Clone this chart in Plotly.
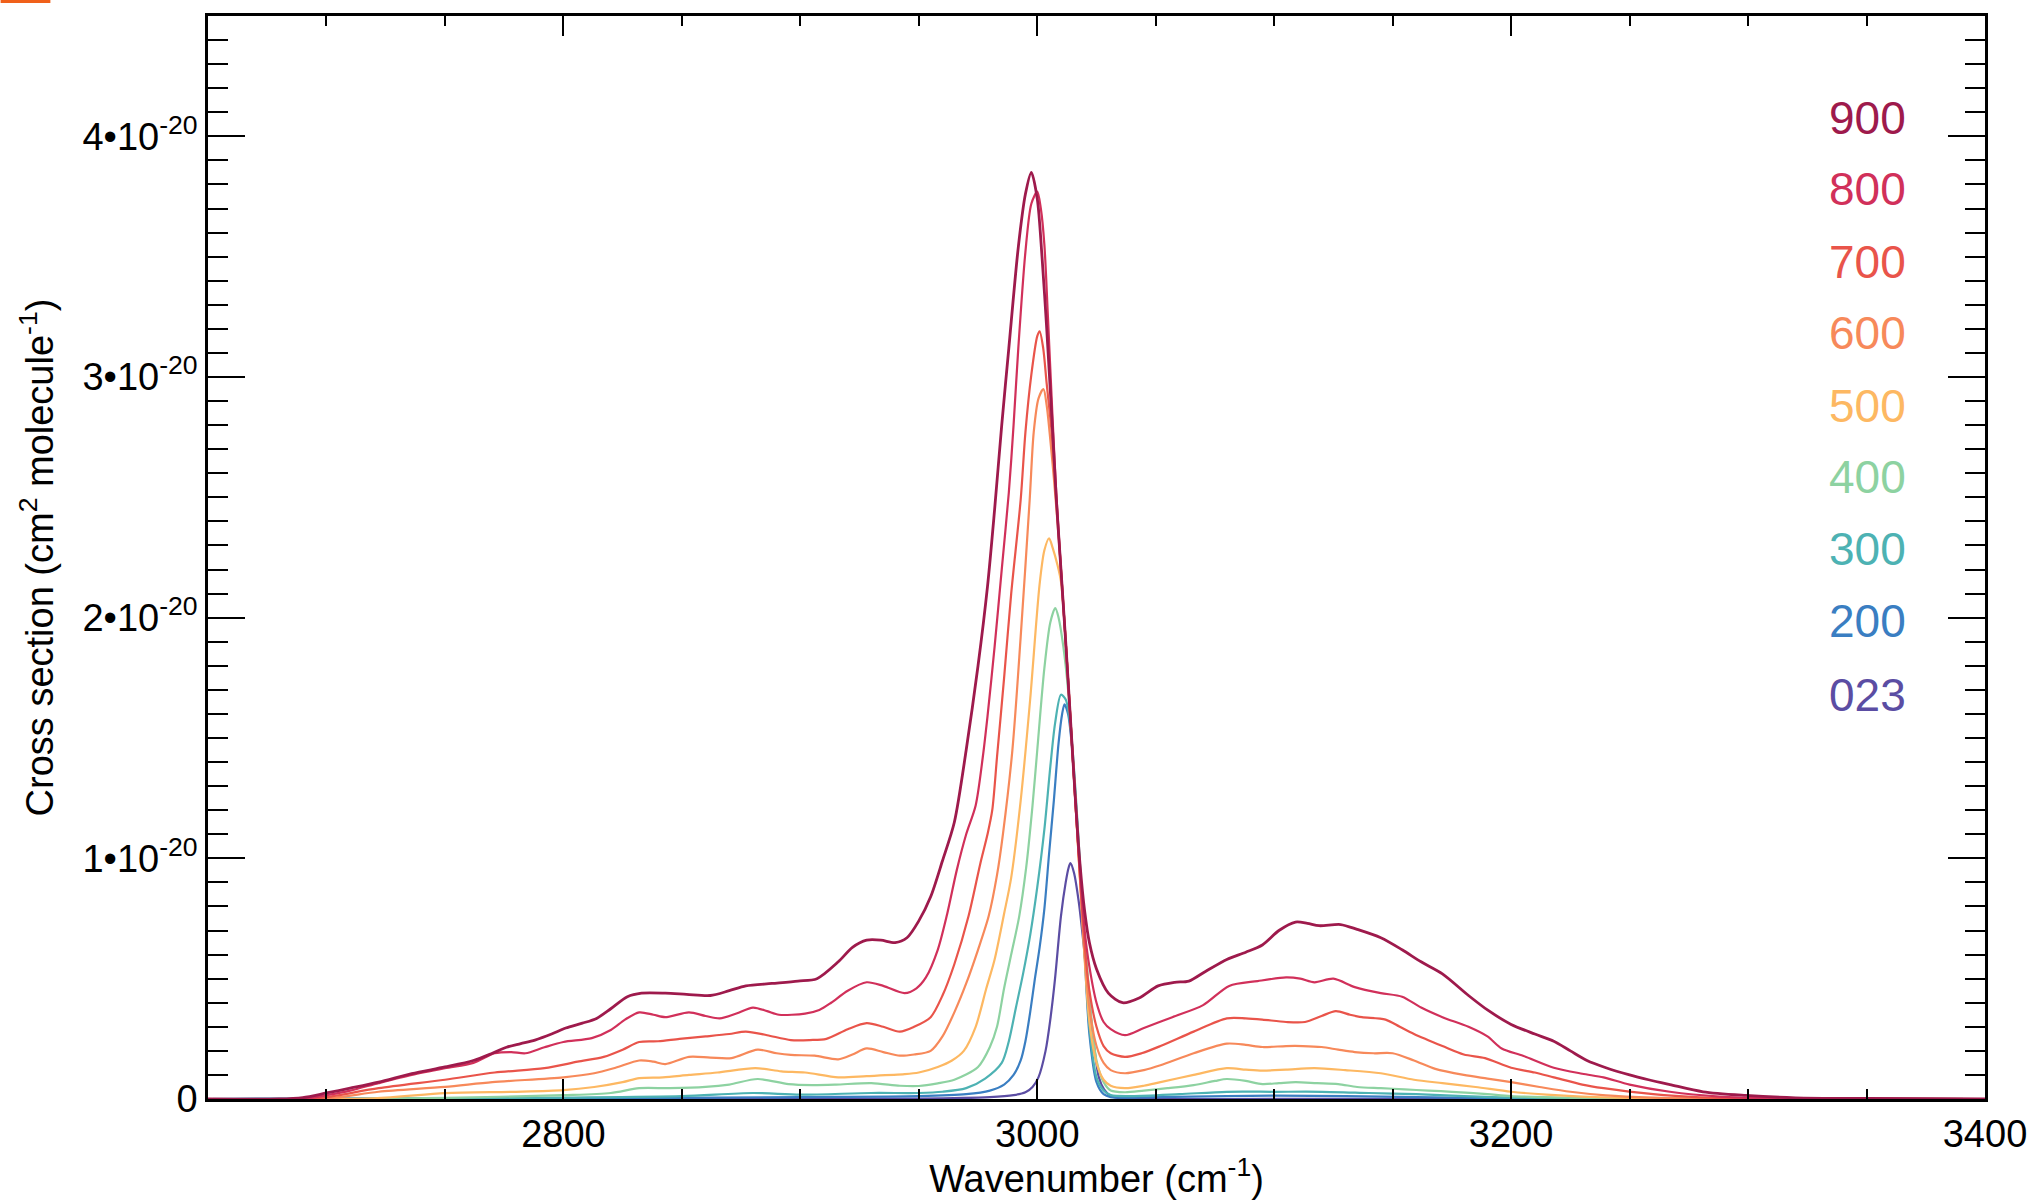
import plotly.graph_objects as go

SCALE = 1e-20  # values below are in units of 1e-20 cm^2 molecule^-1

labels = ["900", "800", "700", "600", "500", "400", "300", "200", "023"]
colors = ["#9E1A4C", "#D1305A", "#E9544A", "#F7895A", "#FDB862",
          "#8DD2A1", "#4DB2B3", "#3A7EC2", "#5B4DA3"]

wn_900 = [2650, 2680, 2690, 2700, 2710, 2722, 2736, 2750, 2762, 2770, 2776, 2782, 2788, 2795, 2801, 2808,
          2814, 2820, 2827, 2833, 2843, 2852, 2862, 2870, 2877, 2888, 2899, 2907, 2916, 2922, 2928, 2934,
          2940, 2945, 2950, 2955, 2960, 2965, 2970, 2975, 2979, 2982, 2985, 2988, 2992, 2995, 2997.5, 3000,
          3002, 3004, 3006.5, 3008, 3010, 3012, 3014, 3016, 3018, 3020, 3022, 3025, 3030, 3036, 3043, 3051,
          3058, 3064, 3071, 3080, 3088, 3095, 3102, 3109, 3114, 3119, 3128, 3135, 3145, 3154, 3162, 3171,
          3182, 3190, 3200, 3210, 3218, 3225, 3232, 3240, 3250, 3258, 3267, 3281, 3299, 3320, 3350, 3400]
cs_900 = [0, 0, 0.006, 0.025, 0.045, 0.07, 0.105, 0.133, 0.16, 0.19, 0.215, 0.23, 0.245, 0.27, 0.295, 0.315,
          0.335, 0.375, 0.425, 0.44, 0.44, 0.435, 0.43, 0.45, 0.47, 0.48, 0.49, 0.50, 0.57, 0.63, 0.66, 0.66,
          0.65, 0.67, 0.74, 0.84, 0.99, 1.15, 1.45, 1.80, 2.13, 2.45, 2.80, 3.12, 3.54, 3.76, 3.85, 3.74,
          3.50, 3.20, 2.77, 2.50, 2.20, 1.90, 1.58, 1.26, 0.98, 0.78, 0.65, 0.54, 0.44, 0.40, 0.42, 0.47,
          0.485, 0.49, 0.53, 0.58, 0.61, 0.64, 0.70, 0.735, 0.73, 0.72, 0.725, 0.705, 0.67, 0.62, 0.57, 0.52,
          0.43, 0.37, 0.31, 0.27, 0.24, 0.20, 0.16, 0.13, 0.10, 0.08, 0.06, 0.03, 0.015, 0.005, 0.002, 0]

wn_800 = [2650, 2690, 2700, 2710, 2722, 2736, 2750, 2762, 2771, 2778, 2784, 2792, 2800, 2812, 2820, 2826,
          2832, 2838, 2843, 2853, 2860, 2866, 2873, 2880, 2886, 2891, 2902, 2908, 2913, 2920, 2928, 2935,
          2944, 2949, 2953, 2958, 2962, 2966, 2970, 2974, 2977, 2979, 2982, 2985, 2988, 2990, 2992, 2995,
          2997.5, 3000, 3001.5, 3003, 3004.5, 3006.5, 3008, 3010, 3012, 3014, 3016, 3018, 3020, 3022, 3025,
          3028, 3031, 3037, 3045, 3057, 3070, 3081, 3093, 3105, 3111, 3117, 3125, 3134, 3145, 3154, 3162,
          3171, 3182, 3190, 3196, 3205, 3218, 3230, 3239, 3250, 3267, 3288, 3310, 3400]
cs_800 = [0, 0, 0.016, 0.035, 0.066, 0.10, 0.128, 0.15, 0.19, 0.195, 0.19, 0.215, 0.237, 0.253, 0.287, 0.33,
          0.36, 0.35, 0.34, 0.36, 0.345, 0.335, 0.355, 0.38, 0.365, 0.35, 0.355, 0.37, 0.40, 0.45, 0.485, 0.47,
          0.44, 0.46, 0.505, 0.62, 0.77, 0.95, 1.10, 1.22, 1.42, 1.59, 1.88, 2.20, 2.52, 2.80, 3.12, 3.52,
          3.72, 3.77, 3.70, 3.55, 3.25, 2.82, 2.52, 2.20, 1.90, 1.58, 1.25, 0.95, 0.70, 0.55, 0.40,
          0.32, 0.29, 0.265, 0.295, 0.34, 0.39, 0.47, 0.49, 0.505, 0.50, 0.485, 0.50, 0.465, 0.44, 0.425, 0.38,
          0.34, 0.30, 0.26, 0.21, 0.18, 0.13, 0.105, 0.09, 0.06, 0.03, 0.01, 0.003, 0]

wn_700 = [2650, 2690, 2700, 2722, 2750, 2771, 2792, 2806, 2817, 2825, 2832, 2840, 2849, 2860, 2870, 2877,
          2886, 2896, 2904, 2911, 2920, 2928, 2935, 2942, 2948, 2955, 2960, 2965, 2971, 2976, 2979, 2981,
          2983, 2986, 2989, 2993, 2995, 2997.5, 3000, 3001, 3002.5, 3004, 3006, 3008, 3010, 3012, 3014,
          3016, 3018, 3020, 3022, 3025, 3028, 3031, 3037, 3044, 3052, 3066, 3080, 3088, 3095, 3105, 3113,
          3120, 3126, 3132, 3137, 3147, 3153, 3159, 3171, 3180, 3189, 3200, 3210, 3218, 3230, 3239, 3260,
          3280, 3300, 3400]
cs_700 = [0, 0, 0.008, 0.045, 0.08, 0.11, 0.128, 0.155, 0.175, 0.205, 0.237, 0.24, 0.25, 0.26, 0.27, 0.28,
          0.265, 0.245, 0.245, 0.25, 0.29, 0.315, 0.30, 0.28, 0.30, 0.34, 0.43, 0.56, 0.76, 0.98, 1.10, 1.20,
          1.42, 1.75, 2.10, 2.49, 2.77, 3.01, 3.17, 3.19, 3.12, 2.97, 2.78, 2.50, 2.20, 1.90, 1.58,
          1.25, 0.93, 0.64, 0.45, 0.30, 0.22, 0.19, 0.175, 0.19, 0.22, 0.28, 0.335, 0.335, 0.33, 0.32, 0.32,
          0.345, 0.365, 0.35, 0.34, 0.33, 0.30, 0.27, 0.22, 0.185, 0.17, 0.13, 0.11, 0.09, 0.06, 0.045, 0.02,
          0.007, 0.002, 0]

wn_600 = [2650, 2700, 2722, 2750, 2770, 2800, 2813, 2822, 2832, 2838, 2843, 2853, 2862, 2871, 2882, 2890,
          2896, 2906, 2916, 2922, 2928, 2935, 2942, 2948, 2955, 2960, 2965, 2970, 2975, 2979.5, 2983, 2985.5,
          2989.5, 2993, 2996.8, 2998.5, 3000.5, 3002.6, 3004, 3005.5, 3007, 3008.5, 3010, 3012, 3014, 3016,
          3018, 3020, 3022, 3025, 3028, 3031, 3037, 3045, 3052, 3066, 3080, 3088, 3095, 3105, 3112, 3120,
          3127, 3134, 3142, 3150, 3159, 3168, 3180, 3190, 3200, 3212, 3225, 3240, 3260, 3290, 3400]
cs_600 = [0, 0.002, 0.03, 0.05, 0.07, 0.09, 0.107, 0.13, 0.16, 0.155, 0.145, 0.175, 0.172, 0.17, 0.205, 0.19,
          0.183, 0.18, 0.165, 0.185, 0.21, 0.195, 0.18, 0.185, 0.20, 0.26, 0.36, 0.48, 0.62, 0.76, 0.93, 1.10,
          1.45, 1.92, 2.49, 2.77, 2.91, 2.95, 2.88, 2.74, 2.58, 2.40, 2.20, 1.90, 1.58, 1.25,
          0.92, 0.60, 0.38, 0.22, 0.15, 0.12, 0.107, 0.12, 0.14, 0.19, 0.23, 0.225, 0.216, 0.22, 0.22, 0.216,
          0.205, 0.195, 0.19, 0.19, 0.16, 0.125, 0.10, 0.085, 0.07, 0.05, 0.03, 0.015, 0.006, 0.001, 0]

wn_500 = [2650, 2720, 2750, 2780, 2800, 2813, 2825, 2832, 2842, 2853, 2865, 2881, 2892, 2902, 2916, 2928,
          2944, 2950, 2958, 2964, 2969, 2974, 2978.5, 2982, 2986, 2989, 2993, 2997, 3001, 3003, 3005, 3006.5,
          3008.5, 3010, 3012, 3014, 3016, 3018, 3020, 3022, 3025, 3028, 3031, 3037, 3045, 3052, 3066, 3080,
          3088, 3095, 3105, 3117, 3130, 3145, 3159, 3171, 3185, 3200, 3215, 3230, 3250, 3280, 3400]
cs_500 = [0, 0.003, 0.024, 0.03, 0.037, 0.05, 0.07, 0.087, 0.09, 0.10, 0.11, 0.128, 0.115, 0.11, 0.09, 0.095,
          0.103, 0.11, 0.133, 0.16, 0.20, 0.30, 0.46, 0.58, 0.77, 0.92, 1.24, 1.66, 2.14, 2.28, 2.33, 2.29,
          2.22, 2.15, 1.90, 1.58, 1.25, 0.92, 0.58, 0.32, 0.15, 0.08, 0.055, 0.045, 0.055, 0.07, 0.10, 0.128,
          0.122, 0.118, 0.122, 0.128, 0.12, 0.107, 0.08, 0.066, 0.05, 0.03, 0.018, 0.01, 0.004, 0.001, 0]

wn_400 = [2650, 2700, 2750, 2800, 2820, 2832, 2845, 2860, 2870, 2882, 2895, 2905, 2915, 2930, 2942, 2950,
          2958, 2965, 2975, 2980, 2983, 2986, 2989, 2992.4, 2995.3, 2998, 3000, 3003, 3005.5, 3007.6, 3009,
          3011, 3013, 3015, 3017, 3019, 3021, 3023, 3025, 3028, 3031, 3037, 3045, 3055, 3066, 3075, 3080,
          3088, 3095, 3102, 3109, 3118, 3127, 3135, 3145, 3155, 3165, 3175, 3190, 3200, 3225, 3250, 3400]
cs_400 = [0, 0, 0.005, 0.016, 0.025, 0.045, 0.045, 0.05, 0.06, 0.083, 0.062, 0.058, 0.06, 0.066, 0.055, 0.054,
          0.065, 0.08, 0.133, 0.216, 0.30, 0.46, 0.60, 0.76, 0.96, 1.22, 1.45, 1.79, 1.98, 2.04, 2.00,
          1.88, 1.70, 1.42, 1.12, 0.82, 0.55, 0.32, 0.16, 0.07, 0.035, 0.028, 0.035, 0.045, 0.058, 0.075, 0.083,
          0.075, 0.062, 0.066, 0.07, 0.066, 0.062, 0.05, 0.045, 0.04, 0.035, 0.03, 0.02, 0.012, 0.005, 0.001, 0]

wn_300 = [2650, 2750, 2800, 2850, 2880, 2900, 2930, 2950, 2960, 2970, 2978, 2985, 2988, 2991, 2994, 2997,
          3000, 3003, 3005.5, 3007.5, 3010, 3012, 3014, 3016, 3018, 3020, 3022, 3025, 3028, 3031, 3040,
          3060, 3080, 3100, 3120, 3140, 3160, 3180, 3200, 3250, 3400]
cs_300 = [0, 0.002, 0.006, 0.012, 0.025, 0.018, 0.025, 0.025, 0.03, 0.045, 0.085, 0.15, 0.24, 0.38, 0.52, 0.68,
          0.88, 1.12, 1.38, 1.56, 1.68, 1.66, 1.55, 1.30, 0.98, 0.62, 0.30, 0.09, 0.035, 0.016, 0.012,
          0.02, 0.03, 0.03, 0.03, 0.025, 0.02, 0.012, 0.006, 0.001, 0]

wn_200 = [2650, 2800, 2900, 2950, 2970, 2980, 2986, 2990, 2993, 2995, 2997, 2999, 3001, 3003, 3005, 3007,
          3009, 3010.5, 3011.5, 3013, 3014.5, 3016, 3018, 3020, 3022, 3025, 3028, 3031, 3050, 3080, 3100,
          3130, 3160, 3200, 3250, 3400]
cs_200 = [0, 0.003, 0.008, 0.012, 0.02, 0.035, 0.06, 0.10, 0.16, 0.24, 0.36, 0.50, 0.63, 0.79, 1.02, 1.24,
          1.48, 1.60, 1.64, 1.60, 1.48, 1.27, 0.96, 0.60, 0.27, 0.07, 0.02, 0.008, 0.008, 0.012, 0.014,
          0.012, 0.008, 0.003, 0, 0]

wn_023 = [2650, 2950, 2980, 2990, 2995, 2998, 3000.5, 3003.5, 3005.5, 3007.5, 3010, 3012, 3013.2, 3014,
          3015.5, 3017.5, 3019.8, 3022, 3024, 3026, 3028.2, 3031, 3035, 3100, 3400]
cs_023 = [0, 0.002, 0.008, 0.016, 0.028, 0.05, 0.09, 0.20, 0.33, 0.50, 0.76, 0.90, 0.96, 0.98,
          0.94, 0.82, 0.62, 0.40, 0.22, 0.09, 0.04, 0.012, 0.003, 0.001, 0]

series = {
    "900": (wn_900, cs_900), "800": (wn_800, cs_800), "700": (wn_700, cs_700),
    "600": (wn_600, cs_600), "500": (wn_500, cs_500), "400": (wn_400, cs_400),
    "300": (wn_300, cs_300), "200": (wn_200, cs_200), "023": (wn_023, cs_023),
}

y_tickvals = [0, 1, 2, 3, 4]
y_ticktext = ["0", "1\u202210<sup>-20</sup>", "2\u202210<sup>-20</sup>",
              "3\u202210<sup>-20</sup>", "4\u202210<sup>-20</sup>"]

FONT = "Liberation Sans, Arial, sans-serif"

fig = go.Figure()
for lab, col in reversed(list(zip(labels, colors))):
    xs, ys = series[lab]
    fig.add_trace(go.Scatter(
        x=xs, y=[v * SCALE for v in ys], mode="lines",
        line=dict(color=col, width=2.8 if lab == "900" else 2.2, shape="spline", smoothing=0.8),
        showlegend=False, name=lab))

# text legend
leg_y = [0.906, 0.840, 0.773, 0.707, 0.640, 0.574, 0.508, 0.441, 0.373]
for lab, col, yy in zip(labels, colors, leg_y):
    fig.add_annotation(x=0.934, y=yy, xref="paper", yref="paper", text=lab, showarrow=False,
                       xanchor="center", yanchor="middle", font=dict(size=46, color=col, family=FONT))

fig.update_layout(
    width=2039, height=1200,
    margin=dict(l=208, r=49, t=16, b=101),
    paper_bgcolor="white", plot_bgcolor="white",
    font=dict(family=FONT, size=38, color="black"),
    shapes=[dict(type="rect", xref="paper", yref="paper", x0=-0.1167, x1=-0.0887, y0=1.012, y1=1.0148,
                 fillcolor="#F0601A", line=dict(width=0))],
)
fig.update_xaxes(
    range=[2650, 3400], tick0=0, dtick=200, ticks="inside", ticklen=20, tickwidth=2, tickcolor="black",
    showline=True, linecolor="black", linewidth=2.5, mirror="ticks", showgrid=False, zeroline=False,
    tickfont=dict(size=38, family=FONT),
    minor=dict(dtick=50, ticks="inside", ticklen=10, tickwidth=2, tickcolor="black", showgrid=False),
    title=dict(text="Wavenumber (cm<sup>-1</sup>)", font=dict(size=38, family=FONT), standoff=4),
)
fig.update_yaxes(
    range=[0, 4.5 * SCALE], tickvals=[v * SCALE for v in y_tickvals], ticktext=y_ticktext,
    ticks="inside", ticklen=37, tickwidth=2, tickcolor="black",
    showline=True, linecolor="black", linewidth=2.5, mirror="ticks", showgrid=False, zeroline=False,
    tickfont=dict(size=38, family=FONT),
    minor=dict(dtick=0.1 * SCALE, tick0=0, ticks="inside", ticklen=20, tickwidth=2, tickcolor="black",
               showgrid=False),
    title=dict(text="Cross section (cm<sup>2</sup> molecule<sup>-1</sup>)", font=dict(size=38, family=FONT),
               standoff=18),
)

fig.write_html("out.html", config={"displayModeBar": False},
               post_script="document.body.style.margin='0';")
